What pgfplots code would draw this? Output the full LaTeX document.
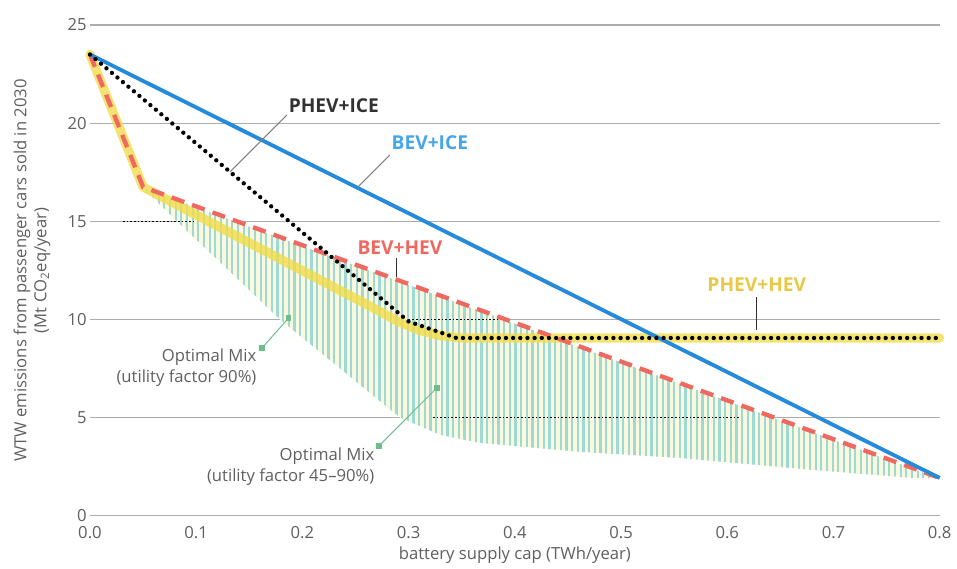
\documentclass[border=0pt]{standalone}
\usepackage{pgfplots}
\pgfplotsset{compat=1.18}
\usepackage{fontspec}
\setmainfont{Open Sans}
\usetikzlibrary{patterns.meta}
\definecolor{blueL}{RGB}{38,138,218}
\definecolor{blueT}{RGB}{70,165,235}
\definecolor{redL}{RGB}{240,104,96}
\definecolor{yelL}{RGB}{242,220,75}
\definecolor{hatch}{RGB}{160,216,212}
\definecolor{cream}{RGB}{250,248,222}
\definecolor{greenL}{RGB}{110,190,140}
\definecolor{txt}{RGB}{95,95,95}
\definecolor{phev}{RGB}{50,50,50}
\definecolor{gold}{RGB}{232,200,70}
\begin{document}
\begin{tikzpicture}
\begin{axis}[
  scale only axis, width=510pt, height=294.6pt,
  xmin=0, xmax=0.8, ymin=0, ymax=25,
  xtick={0,0.1,0.2,0.3,0.4,0.5,0.6,0.7,0.8},
  xticklabels={0.0,0.1,0.2,0.3,0.4,0.5,0.6,0.7,0.8},
  ytick={0,5,10,15,20,25},
  yticklabels={0,5,10,15,20,25},
  axis line style={draw=none}, major tick length=0pt,
  ymajorgrids, grid style={draw=gray!65, line width=0.7pt},
  tick label style={font=\fontsize{10}{12}\selectfont, text=txt},
  xticklabel style={yshift=-3pt},
  yticklabel style={xshift=1.5pt},
  clip=false,
  xlabel={battery supply cap (TWh/year)},
  xlabel style={at={(rel axis cs:0.5,-0.0794)}, anchor=center, font=\fontsize{10}{12}\selectfont, text=txt},
  ylabel={WTW emissions from passenger cars sold in 2030\\(Mt CO\textsubscript{2}eq/year)},
  ylabel style={at={(rel axis cs:-0.0682,0.5)}, anchor=center, rotate=0, align=center, font=\fontsize{10}{12}\selectfont, text=txt},
]
% hatched optimal mix area
\addplot[draw=none, fill=cream] coordinates {(0.05,16.7)(0.8,1.9)(0.775,1.93)(0.68,2.34)(0.555,2.95)(0.461,3.26)(0.367,3.72)(0.33,4.12)(0.292,5)(0.179,10)(0.082,15)} -- cycle;
\addplot[draw=none, pattern={Lines[angle=90,distance=3.4pt,line width=1.3pt]}, pattern color=hatch] coordinates {(0.05,16.7)(0.8,1.9)(0.775,1.93)(0.68,2.34)(0.555,2.95)(0.461,3.26)(0.367,3.72)(0.33,4.12)(0.292,5)(0.179,10)(0.082,15)} -- cycle;
% small dotted black marks on gridlines
\addplot[black, line width=0.5pt, dash pattern=on 1pt off 1.2pt] coordinates {(0.031,15)(0.097,15)};
\addplot[black, line width=0.5pt, dash pattern=on 1pt off 1.2pt] coordinates {(0.30,10)(0.39,10)};
\addplot[black, line width=0.5pt, dash pattern=on 1pt off 1.2pt] coordinates {(0.323,5)(0.612,5)};
% PHEV+HEV
\addplot[yelL, line width=5.5pt, opacity=0.8, line join=round, line cap=round] coordinates {(0,23.5)(0.05,16.75)(0.27,10.5)(0.29,9.9)(0.31,9.45)(0.33,9.18)(0.35,9.06)(0.8,9.06)};
% BEV+HEV
\addplot[redL, line width=2.6pt, dash pattern=on 8pt off 5pt] coordinates {(0,23.5)(0.05,16.75)(0.8,1.93)};
% BEV+ICE
\addplot[blueL, line width=2.3pt] coordinates {(0,23.5)(0.8,1.93)};
% PHEV+ICE
\addplot[black, line width=2.6pt, line cap=round, dash pattern=on 0pt off 4.3pt] coordinates {(0,23.5)(0.3,9.9)(0.345,9.06)(0.8,9.06)};
% leaders
\addplot[gray, line width=0.6pt] coordinates {(0.1318,17.52)(0.1854,20.42)};
\addplot[gray, line width=0.6pt] coordinates {(0.2522,16.75)(0.2824,18.38)};
\addplot[phev, line width=0.6pt] coordinates {(0.289,13.14)(0.289,12.17)};
\addplot[phev, line width=0.6pt] coordinates {(0.6278,11.15)(0.6278,9.47)};
\addplot[greenL, line width=0.6pt, mark=square*, mark size=1.3pt] coordinates {(0.187,10.08)(0.162,8.55)};
\addplot[greenL, line width=0.6pt, mark=square*, mark size=1.3pt] coordinates {(0.3266,6.52)(0.272,3.56)};
% labels
\node[font=\fontsize{11.5}{13}\selectfont\bfseries, text=phev] at (axis cs:0.2296,20.88) {PHEV+ICE};
\node[font=\fontsize{11.5}{13}\selectfont\bfseries, text=blueT] at (axis cs:0.32,18.99) {BEV+ICE};
\node[font=\fontsize{11.5}{13}\selectfont\bfseries, text=redL] at (axis cs:0.2918,13.65) {BEV+HEV};
\node[font=\fontsize{11.5}{13}\selectfont\bfseries, text=gold] at (axis cs:0.6278,11.76) {PHEV+HEV};
\node[font=\fontsize{10}{12.6}\selectfont, text=txt, align=right, anchor=east, inner sep=0pt] at (axis cs:0.157,7.56) {Optimal Mix\\(utility factor 90\%)};
\node[font=\fontsize{10}{12.6}\selectfont, text=txt, align=right, anchor=east, inner sep=0pt] at (axis cs:0.268,2.49) {Optimal Mix\\(utility factor 45–90\%)};
\path (rel axis cs:-0.1059,-0.108) rectangle (rel axis cs:1.02,1.051);
\end{axis}
\end{tikzpicture}
\end{document}
